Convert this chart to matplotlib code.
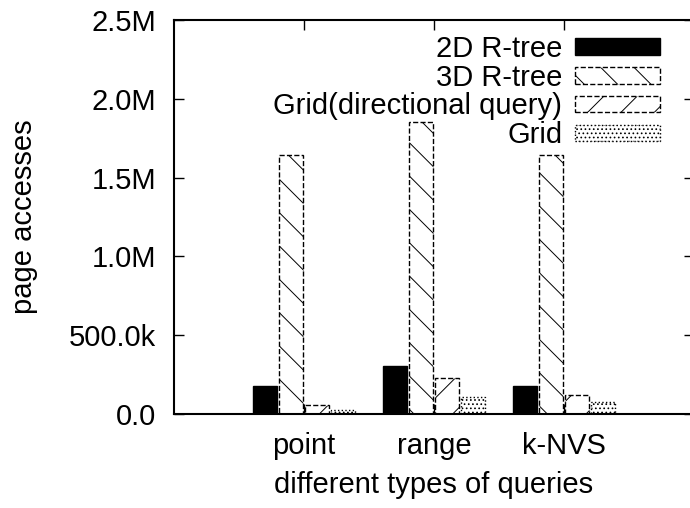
import matplotlib
matplotlib.use('Agg')
import matplotlib.pyplot as plt
import numpy as np

plt.rcParams['font.family'] = ['Liberation Sans', 'DejaVu Sans']
plt.rcParams['font.size'] = 21
plt.rcParams['hatch.linewidth'] = 0.7

# data (page accesses)
queries = ['point', 'range', 'k-NVS']
series_names = ['2D R-tree', '3D R-tree', 'Grid(directional query)', 'Grid']
rtree2d = [180000, 306000, 180000]
rtree3d = [1643000, 1853000, 1643000]
grid_dir = [57000, 230000, 119000]
grid = [25000, 106000, 74000]
ytick_vals = [0, 500000, 1000000, 1500000, 2000000, 2500000]
ytick_labels = ['0.0', '500.0k', '1.0M', '1.5M', '2.0M', '2.5M']

fig = plt.figure(figsize=(6.9, 5.08), dpi=100)
ax = fig.add_axes([174 / 690, 94 / 508, 520 / 690, 394 / 508])

x = np.arange(1, len(queries) + 1)
step = 0.2
w = 0.19
styles = [
    dict(facecolor='black', edgecolor='black', linewidth=1.0),
    dict(facecolor='white', edgecolor='black', hatch='\\', linestyle='--', linewidth=1.0),
    dict(facecolor='white', edgecolor='black', hatch='/', linestyle='--', linewidth=1.0),
    dict(facecolor='white', edgecolor='black', hatch='....', linestyle=':', linewidth=1.0),
]
handles = []
for i, (vals, st) in enumerate(zip([rtree2d, rtree3d, grid_dir, grid], styles)):
    b = ax.bar(x + (i - 1.5) * step, vals, width=w, label=series_names[i], **st)
    handles.append(b)

ax.set_xlim(0, 4)
ax.set_ylim(0, 2500000)
ax.set_xticks(x)
ax.set_xticklabels(queries)
ax.set_yticks(ytick_vals)
ax.set_yticklabels(ytick_labels)
ax.tick_params(direction='in', length=7, width=1, top=True, right=True, pad=13)
for s in ax.spines.values():
    s.set_linewidth(1.5)

ax.set_xlabel('different types of queries', labelpad=8)
ax.set_ylabel('page accesses', labelpad=22)

ax.legend(handles=handles, loc='upper right', bbox_to_anchor=(660 / 690, 1 - 35 / 508),
          bbox_transform=fig.transFigure, frameon=False, markerfirst=False,
          handlelength=2.9, handleheight=0.5, handletextpad=0.45,
          labelspacing=0.025, borderpad=0, borderaxespad=0)

fig.savefig('out.png', dpi=100)
